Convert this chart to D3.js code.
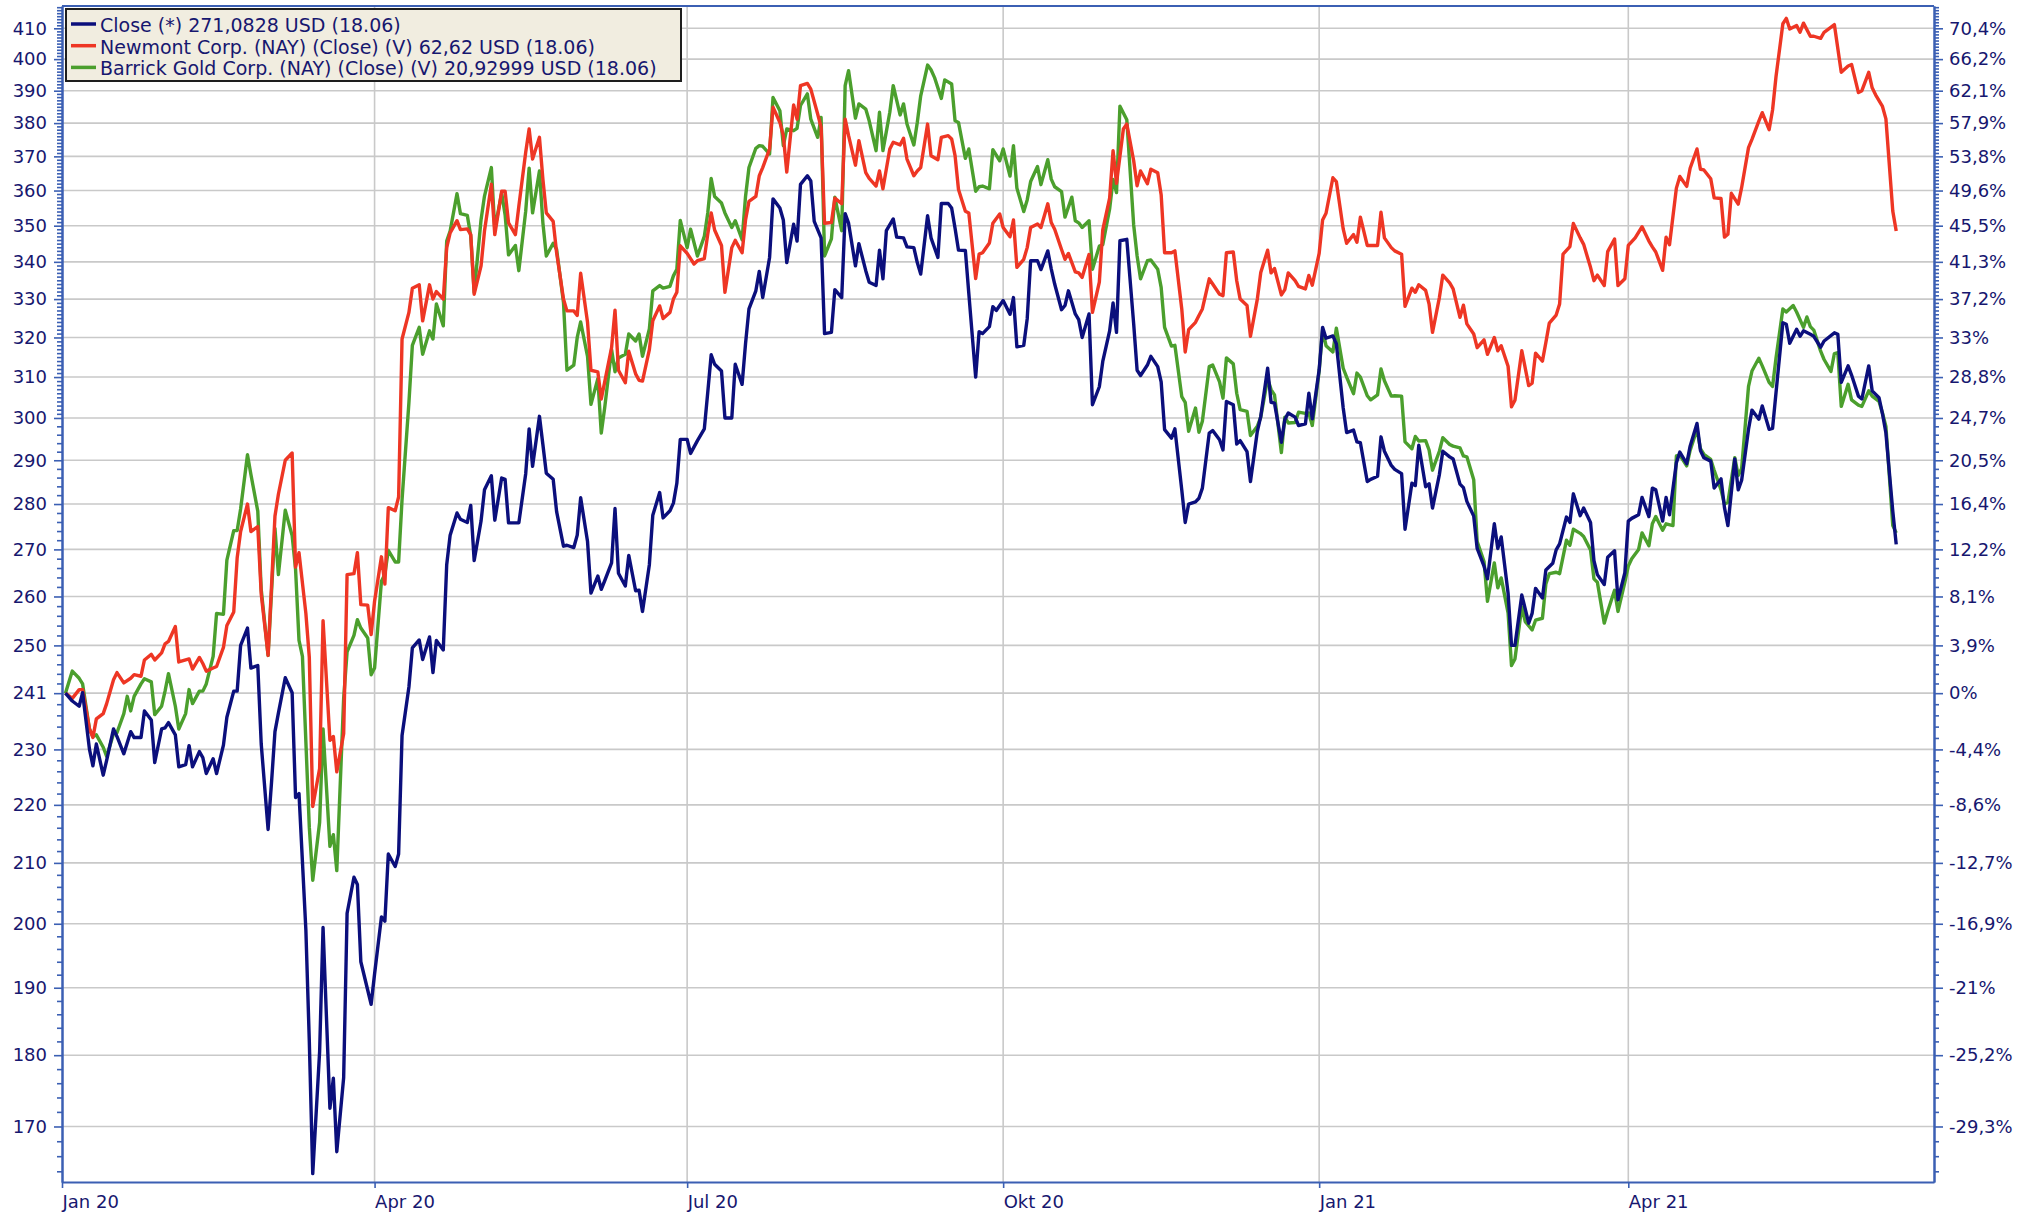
<!DOCTYPE html>
<html>
<head>
<meta charset="utf-8">
<script src="https://cdn.jsdelivr.net/npm/d3@7/dist/d3.min.js"></script>
<style>
  body { margin: 0; background: #fff; }
  text { font-family: "DejaVu Sans", Verdana, sans-serif; }
</style>
</head>
<body>
<div id="chart"></div>
<script>
// first value of "Close", the 0% line of the right axis
const BASE = 240.61;
const START = "2020-01-01";

// [days since 1 Jan 2020, value]
const closeData = [[1,240.61],[3,239.1],[5,238.1],[6,240.7],[8,230],[9,227],[10,231],[12,225.3],[13,228],[15,233.8],[16,232.4],[18,229.2],[20,233.3],[21,232.2],[23,232.2],[24,237.2],[26,235.5],[27,227.6],[29,233.8],[30,234],[31,235],[33,232.7],[34,226.8],[36,227.2],[37,230.7],[38,226.8],[40,229.6],[41,228.5],[42,225.6],[44,228.3],[45,225.6],[47,230.8],[48,236],[50,241],[51,241],[52,250],[54,253.5],[55,245.5],[57,246],[58,231],[60,215.7],[61,224],[62,233.3],[63,236.8],[65,243.6],[67,240.7],[68,221.3],[69,222],[71,199],[72,182],[73,163.7],[75,180.5],[76,199.4],[78,172.5],[79,176.7],[80,166.6],[82,176.8],[83,201.7],[85,207.6],[86,206.4],[87,194],[90,187.5],[91,192.1],[93,201.1],[94,200.4],[95,211.5],[97,209.4],[98,211.5],[99,232.6],[101,241.8],[102,249.5],[104,251.1],[105,247.2],[107,251.7],[108,244.6],[109,251],[111,249.1],[112,266.7],[113,273.1],[115,278],[116,276.6],[118,275.9],[119,279.7],[120,267.6],[122,276.2],[123,283.2],[125,286.4],[126,276.4],[128,285.9],[129,285.6],[130,275.8],[133,275.8],[135,286.9],[136,297.4],[137,288.6],[139,300.4],[140,293.7],[141,287],[143,285.6],[144,278.3],[146,270.7],[147,270.9],[149,270.4],[150,273.1],[151,281.4],[153,271.7],[154,260.7],[156,264.3],[157,261.5],[158,263.3],[160,267.1],[161,279],[162,264.9],[164,262.2],[165,268.7],[167,261.2],[168,261.3],[169,256.9],[171,266.7],[172,277.5],[174,282.6],[175,276.9],[177,278.5],[178,280.2],[179,284.7],[180,294.9],[182,294.9],[183,291.6],[185,294.6],[187,297.4],[188,306.2],[189,315.6],[190,313.2],[192,311.5],[193,300],[195,300],[196,313.2],[198,308.2],[199,318.4],[200,327.4],[202,332.2],[203,337.4],[204,330.4],[206,341.2],[207,357.6],[209,355],[210,351.6],[211,339.8],[213,350.4],[214,345.7],[215,361.8],[217,364.3],[218,362.8],[219,351.2],[221,346.6],[222,321],[224,321.3],[225,332.5],[227,330.4],[228,353.4],[229,350.7],[231,338.9],[232,345],[234,337.6],[235,334.5],[237,333.6],[238,343.2],[239,335.4],[240,348.6],[242,351.9],[243,346.8],[245,346.6],[246,344.1],[248,343.9],[249,339.8],[250,336.7],[252,352.8],[253,346.6],[255,341.2],[256,356.3],[258,356.3],[259,355],[260,349.3],[261,343.2],[263,343.1],[264,331.5],[266,310],[267,321.5],[268,321],[270,322.8],[271,328],[272,327],[274,329.6],[276,326],[277,330.4],[278,317.6],[280,318],[281,324.8],[282,340.3],[284,340.3],[285,337.9],[287,343],[288,338.1],[289,334],[291,327.2],[292,328.3],[293,332.2],[295,326.1],[296,324.6],[297,320],[299,326.1],[300,303.2],[302,307.6],[303,313.9],[305,321.7],[306,329],[307,321.3],[308,345.8],[310,346.2],[312,323.5],[313,311.7],[314,310.4],[316,313],[317,315.2],[319,312.6],[320,308.8],[321,297.2],[323,295.2],[324,297.4],[326,283.2],[327,275.9],[328,280],[330,280.5],[331,281.3],[332,283.6],[334,296.4],[335,297],[337,294.8],[338,292.4],[339,304],[341,303.2],[342,293.8],[343,294.6],[345,292],[346,285.1],[348,296.8],[349,300.4],[351,312.2],[352,303.8],[353,303.6],[355,294.2],[356,299.6],[357,301.2],[359,300.2],[360,298.2],[362,298.6],[363,306],[364,299.8],[366,311.8],[367,322.6],[368,319.8],[370,320.4],[371,318.4],[373,302.4],[374,296.5],[376,297.1],[377,294.3],[378,294.1],[380,285.1],[381,285.6],[383,286.3],[384,295.5],[385,292.1],[387,288.8],[388,287.9],[390,286.9],[391,274.4],[393,284.7],[394,284.2],[395,293.5],[397,283.9],[398,284.6],[399,279.1],[401,286.7],[402,292.1],[404,290.8],[405,290.3],[407,284.5],[408,283.7],[409,280.6],[411,277.3],[412,270.2],[414,266.4],[415,263.7],[417,275.6],[418,270.2],[419,272.7],[421,260.7],[422,250],[423,250],[425,260.3],[427,254.5],[428,256.5],[429,261.7],[431,259.7],[432,265.6],[434,267],[435,269.9],[436,271.2],[438,277.1],[439,275.9],[440,282.3],[442,277.4],[443,279.1],[445,275.9],[446,267.6],[447,264.6],[449,262.5],[450,268.3],[452,269.7],[453,259.3],[455,265],[456,276.2],[457,276.8],[459,277.6],[460,281.5],[462,277.2],[463,283.6],[464,283.2],[466,276.2],[467,281.5],[468,277.6],[470,289.4],[471,291.9],[473,289.2],[474,293.3],[476,298.7],[477,292.3],[478,290.6],[480,289.8],[481,283.6],[483,285.7],[484,279.2],[485,275.2],[487,290.3],[488,283.2],[489,285.4],[491,297.3],[492,301.9],[494,299.7],[495,302.9],[497,297.3],[498,297.5],[499,306.1],[501,323.8],[502,323.4],[503,318.5],[505,322.1],[506,320.3],[507,321.7],[509,320.8],[510,320.3],[512,317.5],[513,319.1],[516,321.2],[517,320.8],[518,308.7],[520,312.8],[521,310.5],[523,305.3],[524,304.6],[526,312.8],[527,306.6],[529,304.9],[530,301],[531,296.4],[533,278.4],[534,271.08]];

const newmontData = [[1,240.61],[3,239.6],[5,241.3],[6,241.3],[8,233.8],[9,232.2],[10,235.7],[12,236.7],[13,238.6],[15,243.2],[16,244.6],[18,242.6],[20,243.5],[21,244.2],[23,243.9],[24,247.1],[26,248.2],[27,247.1],[29,248.5],[30,250.3],[31,250.8],[33,253.8],[34,246.7],[36,247.1],[37,247.3],[38,245.3],[40,247.6],[41,246.4],[42,244.9],[44,245.5],[45,245.8],[47,249.6],[48,254],[50,256.8],[51,268.2],[52,273.9],[54,280],[55,273.9],[57,275],[58,260.5],[60,248],[62,277.3],[63,282.2],[65,290],[67,291.7],[68,266.2],[69,269.3],[71,256.5],[72,247.6],[73,219.7],[75,226.5],[76,255],[78,231.7],[79,232.4],[80,225.9],[82,232.9],[83,264.6],[85,264.8],[86,269.3],[87,258.3],[89,258.2],[90,252.2],[91,259],[93,268.4],[94,262.6],[95,279.2],[97,278.5],[98,281.6],[99,319.6],[101,326.5],[102,332.9],[104,333.8],[105,324.3],[107,333.8],[108,330],[109,332],[111,330],[112,343.9],[113,348],[115,351.4],[116,348.9],[118,349.1],[119,347.5],[120,331.3],[122,338.9],[123,348.5],[125,361.8],[126,347.5],[128,359.8],[129,359.8],[130,350.8],[132,347.5],[133,355.5],[135,371.2],[136,378.2],[137,369.2],[139,375.7],[140,363.3],[141,353.6],[143,351.2],[144,342.5],[146,330],[147,326.9],[149,326.9],[150,325.7],[151,336.9],[153,323.9],[154,311.7],[156,311.3],[157,304.6],[158,308.8],[160,317.4],[161,327.1],[162,311.7],[164,308.6],[165,316.5],[167,310.8],[168,309.2],[169,309],[171,316.9],[172,324.3],[174,328.2],[175,324.9],[177,326.5],[178,330],[179,331.8],[180,344.4],[182,342.3],[184,339.4],[185,340.3],[187,340.9],[188,347.7],[189,353.6],[190,348.8],[192,344.5],[193,331.8],[195,343.9],[196,345.9],[198,342.5],[199,351.6],[200,356.9],[202,358.3],[203,364.3],[204,366.7],[206,372.2],[207,384.9],[209,380.2],[210,376.2],[211,365.4],[213,385.6],[214,381.2],[215,391.6],[217,392.3],[218,390.5],[220,382.8],[221,378.7],[222,350.7],[224,350.9],[225,357.8],[227,356.2],[228,381.2],[229,376.2],[231,367.4],[232,374.7],[234,365.2],[235,363.5],[237,361.3],[238,365.7],[239,360.5],[241,372.2],[242,374.2],[244,373.4],[245,375.4],[246,369.2],[248,364.3],[249,365.7],[250,366.7],[252,379.7],[253,370.2],[255,369],[256,375.7],[258,376.2],[259,375.2],[260,370.2],[261,360.3],[263,354.1],[264,353.6],[266,335.5],[267,342.1],[268,342.5],[270,345.2],[271,350.7],[273,353.3],[274,349.5],[276,346.9],[277,351.6],[278,338.5],[280,340.7],[281,343.9],[282,349.5],[284,350.5],[285,349.5],[287,356.2],[288,350.9],[289,349],[291,343.4],[292,340.7],[293,342.3],[295,337.3],[296,337],[297,335.8],[299,342],[300,326.5],[302,334.5],[303,348.8],[305,357.8],[306,371.7],[307,362.1],[309,378.2],[310,379.7],[312,368.7],[313,361.4],[314,365.7],[316,362],[317,366.2],[319,365.2],[320,358.8],[321,342.5],[323,342.5],[324,343],[326,327.4],[327,316.3],[328,322],[330,323.9],[331,325.7],[332,327.4],[334,335.4],[335,334],[337,331.3],[338,330.9],[339,342.5],[341,342.7],[342,334.9],[343,330],[345,328.3],[346,320.3],[348,330],[349,337.1],[351,343.2],[352,337],[353,338.2],[355,331.1],[356,332.5],[357,337],[359,334.9],[360,333.4],[362,332.7],[363,336.3],[364,333.7],[366,342.3],[367,351.6],[368,353.5],[370,363.7],[371,362.6],[373,349.1],[374,345.1],[376,347.5],[377,345.4],[378,352.4],[380,344.5],[381,344.5],[383,344.5],[384,353.8],[385,346.6],[387,343.9],[388,343],[390,342.1],[391,328.1],[393,332.9],[394,331.8],[395,333.8],[397,332.3],[398,328.7],[399,321.3],[401,330.4],[402,336.4],[404,334.3],[405,332.7],[407,325.2],[408,328.4],[409,323.5],[411,320.9],[412,317.4],[414,319.4],[415,315.7],[417,320],[418,316.6],[419,317.9],[421,312.7],[422,302.7],[423,304.3],[425,316.6],[427,307.9],[428,308.5],[429,316],[431,314],[432,318.7],[433,323.7],[435,325.8],[436,328.7],[437,342.1],[439,344.2],[440,350.6],[442,346.6],[443,344.8],[445,338.5],[446,334.9],[447,336.4],[449,333.6],[450,342.8],[452,346.3],[453,333.6],[455,335.4],[456,344.5],[458,346.6],[460,349.7],[462,345.7],[463,344.1],[464,342.7],[466,337.7],[467,346.8],[468,344.7],[470,360.7],[471,364.1],[473,361.2],[474,366.5],[476,372.2],[477,366.2],[478,366],[480,363.4],[481,357.9],[483,357.7],[484,346.8],[485,347.6],[486,359.2],[488,356.1],[489,360.9],[491,372.6],[492,375.1],[494,380.6],[495,383.2],[497,378],[498,384],[499,394.4],[501,411.5],[502,413.3],[503,409.8],[505,410.9],[506,408.7],[507,411.7],[509,407.4],[510,407.4],[512,406.7],[513,408.7],[516,411.2],[518,395.8],[520,397.8],[521,398.3],[523,389.4],[524,390],[526,395.8],[527,390.9],[528,388.7],[530,385.1],[531,381.3],[533,354.1],[534,348.5]];

const barrickData = [[1,240.61],[3,244.9],[5,243.5],[6,242.4],[8,233.8],[9,232.4],[10,232.7],[12,230.4],[13,228.7],[15,232.9],[16,233.1],[18,236.7],[19,240],[20,237.2],[21,240],[23,242.4],[24,243.4],[26,242.8],[27,236.5],[29,238.1],[30,241],[31,244.4],[33,238.1],[34,233.8],[36,236.7],[37,241.3],[38,238.6],[40,241],[41,241],[42,242.4],[44,247.8],[45,256.5],[47,256.3],[48,267.7],[50,274.1],[51,274.1],[52,278.9],[54,291.3],[55,286.7],[57,278.4],[58,261.5],[60,248],[62,274.6],[63,264.6],[65,278.6],[67,273],[68,265.7],[69,251],[70,247.8],[72,216.1],[73,207.1],[75,216.9],[76,233.8],[78,212.8],[79,214.8],[80,208.7],[82,239.6],[83,248.7],[85,252],[86,255.2],[87,253.5],[89,251.5],[90,244.2],[91,245.5],[93,263.2],[94,264.7],[95,269.8],[97,267.3],[98,267.3],[99,281],[101,303.7],[102,318],[104,322.6],[105,315.7],[107,321.7],[108,319.6],[109,328.7],[111,323],[112,345.7],[113,348.5],[115,359.1],[116,353.4],[118,352.9],[119,347.1],[120,331.8],[122,351.7],[123,358.4],[125,366.7],[126,349],[128,359.3],[129,353.1],[130,341.9],[132,344.5],[133,337.6],[135,354.1],[136,366.5],[137,353.6],[139,365.7],[140,350.8],[141,341.6],[143,345.1],[144,343.4],[146,329.1],[147,311.7],[149,313],[150,320],[151,324],[153,315.2],[154,303.3],[156,309.6],[157,296.4],[158,302.5],[160,316.9],[161,311.3],[162,314.8],[164,315.7],[165,320.9],[167,319.1],[168,320.9],[169,315.2],[171,322.2],[172,332.2],[174,333.6],[175,332.9],[177,333.4],[178,336.2],[179,338],[180,351.5],[182,343.9],[183,349],[185,341.6],[187,347],[188,353.6],[189,363.5],[190,358.3],[192,356.4],[193,353.6],[195,349.5],[196,351.4],[198,346.1],[199,358.3],[200,366.7],[202,372.4],[203,373.2],[204,373],[206,370.7],[207,387.9],[209,383.8],[210,373.2],[211,378.2],[213,377.7],[214,378.4],[215,385.4],[217,389],[218,381.2],[220,375.7],[221,381.7],[222,341.6],[224,346.3],[225,358.1],[227,348.6],[228,391.6],[229,396.3],[231,381.5],[232,385.9],[234,384.3],[235,380.7],[237,371.7],[238,383.3],[239,371.7],[241,383.3],[242,391.6],[244,382.5],[245,385.9],[246,379.7],[248,373.4],[249,380.2],[250,388.4],[252,398.1],[253,396.6],[254,394.2],[256,387.6],[257,393.4],[259,392.1],[260,380.7],[261,380.2],[263,369.4],[264,372.2],[266,359.8],[267,361.1],[268,361.3],[270,360.5],[271,372],[273,368.7],[274,372.2],[276,364.2],[277,373.2],[278,360.7],[280,354],[281,357.3],[282,362.6],[284,367],[285,361.7],[287,369],[288,363.3],[289,361.1],[291,359.7],[292,352.4],[294,358.1],[295,351.4],[296,350.8],[297,349.5],[299,351.4],[300,338],[302,344.3],[303,344.7],[305,354.7],[306,363.2],[307,359.4],[308,385.2],[310,381],[312,350.2],[313,341.6],[314,335.4],[316,340.3],[317,340.5],[319,338],[320,333.1],[321,322.6],[323,317.8],[324,318],[326,305.2],[327,303.8],[328,296.8],[330,302.4],[331,296.6],[332,299.2],[334,312.6],[335,313],[337,308.8],[338,304.8],[339,314.8],[341,313.3],[342,306],[343,302],[345,301.6],[346,295.8],[348,298],[349,300.2],[351,309.6],[352,306.9],[353,305.6],[355,291.8],[356,300.2],[357,298.8],[359,298.9],[360,301.4],[362,301.1],[363,301.2],[364,298.2],[366,311.5],[367,322],[368,317.9],[370,316.3],[371,322.4],[373,312.2],[374,310],[376,305.9],[377,311],[378,310],[380,305.4],[381,304.4],[383,305.6],[384,312],[385,309.1],[387,305.3],[388,305.4],[390,305.3],[391,294.3],[393,292.7],[394,295.6],[395,294.5],[397,294.6],[398,292.4],[399,287.7],[401,292.1],[402,295.3],[404,293.7],[405,293.3],[407,292.9],[408,291],[409,290.8],[411,285.5],[412,271.7],[414,267.4],[415,259],[417,267.1],[418,261.8],[419,263.9],[421,256.6],[422,246],[423,247.3],[425,257.9],[426,254.8],[428,253.1],[429,255.1],[431,255.5],[432,262.6],[433,264.8],[435,265.1],[436,264.8],[438,272],[439,270.9],[440,274.4],[442,273.5],[443,272.8],[445,269.9],[446,263.7],[447,263],[449,254.5],[450,256.9],[452,261.3],[453,256.9],[455,263],[456,266.4],[457,268],[459,270],[460,273.6],[462,270.8],[463,275.6],[464,277.2],[466,274.2],[467,275.6],[469,275.2],[470,291],[471,291.2],[473,288.7],[474,292.3],[476,297.3],[477,292.7],[478,291.4],[480,290.2],[481,287.7],[483,283.2],[484,280],[485,280.4],[487,290.6],[488,286.5],[489,288.1],[491,307.7],[492,311.5],[494,314.7],[495,312.8],[497,308.7],[498,307.7],[499,314.7],[501,327.4],[502,326.6],[504,328.3],[505,326.6],[507,322.6],[508,325.3],[509,322.8],[510,321.9],[512,316.5],[513,314.4],[515,311.4],[516,315.9],[517,316.1],[518,302.8],[520,308.2],[521,304.4],[523,303.1],[524,302.8],[526,306.6],[527,305.3],[529,304],[530,301.2],[531,298],[533,275.2],[534,273.6]];

const seriesNames = [
  "Close (*) 271,0828 USD (18.06)",
  "Newmont Corp. (NAY) (Close) (V) 62,62 USD (18.06)",
  "Barrick Gold Corp. (NAY) (Close) (V) 20,92999 USD (18.06)"
];
const seriesColors = ["#0b0f7c", "#ee3624", "#4b9f2d"];

// axis ticks
const quarterDates = ["2020-01-01", "2020-04-01", "2020-07-01", "2020-10-01", "2021-01-01", "2021-04-01"];
const quarterLabels = ["Jan 20", "Apr 20", "Jul 20", "Okt 20", "Jan 21", "Apr 21"];
const yTicks = [170, 180, 190, 200, 210, 220, 230, BASE, 250, 260, 270, 280, 290, 300, 310, 320, 330, 340, 350, 360, 370, 380, 390, 400, 410];
const yTickLabels = ["170", "180", "190", "200", "210", "220", "230", "241", "250", "260", "270", "280", "290", "300", "310", "320", "330", "340", "350", "360", "370", "380", "390", "400", "410"];
const pctTickLabels = ["-29,3%", "-25,2%", "-21%", "-16,9%", "-12,7%", "-8,6%", "-4,4%", "0%", "3,9%", "8,1%", "12,2%", "16,4%", "20,5%", "24,7%", "28,8%", "33%", "37,2%", "41,3%", "45,5%", "49,6%", "53,8%", "57,9%", "62,1%", "66,2%", "70,4%"];

const WIDTH = 2023, HEIGHT = 1217;
const PLOT = {left: 62, right: 1934, top: 6, bottom: 1182};
const AXIS_BLUE = "#3b5fb3";
const LABEL_BLUE = "#17176f";
const GRID = "#c9c9c9";

const day0 = d3.utcParse("%Y-%m-%d")(START);
function dayToDate(d) { return d3.utcDay.offset(day0, d); }

const x = d3.scaleUtc()
  .domain([day0, dayToDate(545)])
  .range([PLOT.left, PLOT.right]);

const y = d3.scaleLog()
  .domain([162.6, 417.4])
  .range([PLOT.bottom, PLOT.top]);

// minor ticks: 5 steps per interval below 300, 10 above
var minorTicks = [];
for (var i = 0; i < yTicks.length - 1; i++) {
  var a = yTicks[i], b = yTicks[i + 1];
  var n = b > 300 ? 10 : 5;
  for (var k = 1; k < n; k++) minorTicks.push(a + (b - a) * k / n);
}
// below the first and above the last major tick
minorTicks.push(164, 166, 168, 411, 412, 413, 414, 415, 416, 417);

const svg = d3.select("#chart").append("svg")
  .attr("width", WIDTH)
  .attr("height", HEIGHT);

svg.append("defs").append("clipPath").attr("id", "plotclip")
  .append("rect")
  .attr("x", PLOT.left).attr("y", PLOT.top)
  .attr("width", PLOT.right - PLOT.left).attr("height", PLOT.bottom - PLOT.top);

// grid
const grid = svg.append("g").attr("stroke", GRID).attr("stroke-width", 1.6);
grid.selectAll("line.h").data(yTicks).enter().append("line")
  .attr("x1", PLOT.left).attr("x2", PLOT.right)
  .attr("y1", d => y(d)).attr("y2", d => y(d));
grid.selectAll("line.v").data(quarterDates.slice(1)).enter().append("line")
  .attr("x1", d => x(d3.utcParse("%Y-%m-%d")(d))).attr("x2", d => x(d3.utcParse("%Y-%m-%d")(d)))
  .attr("y1", PLOT.top).attr("y2", PLOT.bottom);

// lines
const line = d3.line()
  .x(d => x(dayToDate(d[0])))
  .y(d => y(d[1]));

const allSeries = [closeData, newmontData, barrickData];
const drawOrder = [2, 1, 0];
const lines_g = svg.append("g").attr("clip-path", "url(#plotclip)");
drawOrder.forEach(function (s) {
  lines_g.append("path")
    .datum(allSeries[s])
    .attr("fill", "none")
    .attr("stroke", seriesColors[s])
    .attr("stroke-width", 3.4)
    .attr("stroke-linejoin", "round")
    .attr("d", line);
});

function styleAxis(g, fontSize) {
  g.select(".domain").attr("stroke", AXIS_BLUE).attr("stroke-width", 2);
  g.selectAll(".tick line").attr("stroke", AXIS_BLUE).attr("stroke-width", 1.6);
  g.selectAll(".tick text").attr("fill", LABEL_BLUE)
    .style("font-size", fontSize + "px")
    .style("font-family", '"DejaVu Sans", Verdana, sans-serif');
}

// left axis
svg.append("g").attr("transform", "translate(" + PLOT.left + ",0)")
  .call(d3.axisLeft(y).tickValues(minorTicks).tickFormat("").tickSize(5).tickSizeOuter(0))
  .call(g => styleAxis(g, 18));
svg.append("g").attr("transform", "translate(" + PLOT.left + ",0)")
  .call(d3.axisLeft(y).tickValues(yTicks).tickFormat((d, i) => yTickLabels[i]).tickSize(8).tickPadding(7).tickSizeOuter(0))
  .call(g => styleAxis(g, 18));

// right axis (percent vs BASE)
svg.append("g").attr("transform", "translate(" + PLOT.right + ",0)")
  .call(d3.axisRight(y).tickValues(minorTicks).tickFormat("").tickSize(5).tickSizeOuter(0))
  .call(g => styleAxis(g, 18));
svg.append("g").attr("transform", "translate(" + PLOT.right + ",0)")
  .call(d3.axisRight(y).tickValues(yTicks).tickFormat((d, i) => pctTickLabels[i]).tickSize(9).tickPadding(6).tickSizeOuter(0))
  .call(g => styleAxis(g, 18));

// bottom axis
const xAxis_g = svg.append("g").attr("transform", "translate(0," + PLOT.bottom + ")")
  .call(d3.axisBottom(x)
    .tickValues(quarterDates.map(d3.utcParse("%Y-%m-%d")))
    .tickFormat((d, i) => quarterLabels[i])
    .tickSize(6).tickSizeOuter(0))
  .call(g => styleAxis(g, 18));
xAxis_g.selectAll(".tick text")
  .attr("text-anchor", "start")
  .attr("x", 0)
  .attr("y", 13);

// top frame line
svg.append("line")
  .attr("x1", PLOT.left).attr("x2", PLOT.right)
  .attr("y1", PLOT.top).attr("y2", PLOT.top)
  .attr("stroke", AXIS_BLUE).attr("stroke-width", 2);

// legend
const legend = svg.append("g").attr("transform", "translate(66,9)");
legend.append("rect")
  .attr("width", 615).attr("height", 72)
  .attr("fill", "#f1ede0")
  .attr("stroke", "#1e1e1e").attr("stroke-width", 2);
seriesNames.forEach(function (name, i) {
  var cy = 15 + i * 21.7;
  legend.append("line")
    .attr("x1", 5).attr("x2", 30)
    .attr("y1", cy).attr("y2", cy)
    .attr("stroke", seriesColors[i]).attr("stroke-width", 3.5);
  legend.append("text")
    .attr("x", 34).attr("y", cy + 8)
    .attr("fill", LABEL_BLUE)
    .style("font-size", "19px")
    .text(name);
});
</script>
</body>
</html>
